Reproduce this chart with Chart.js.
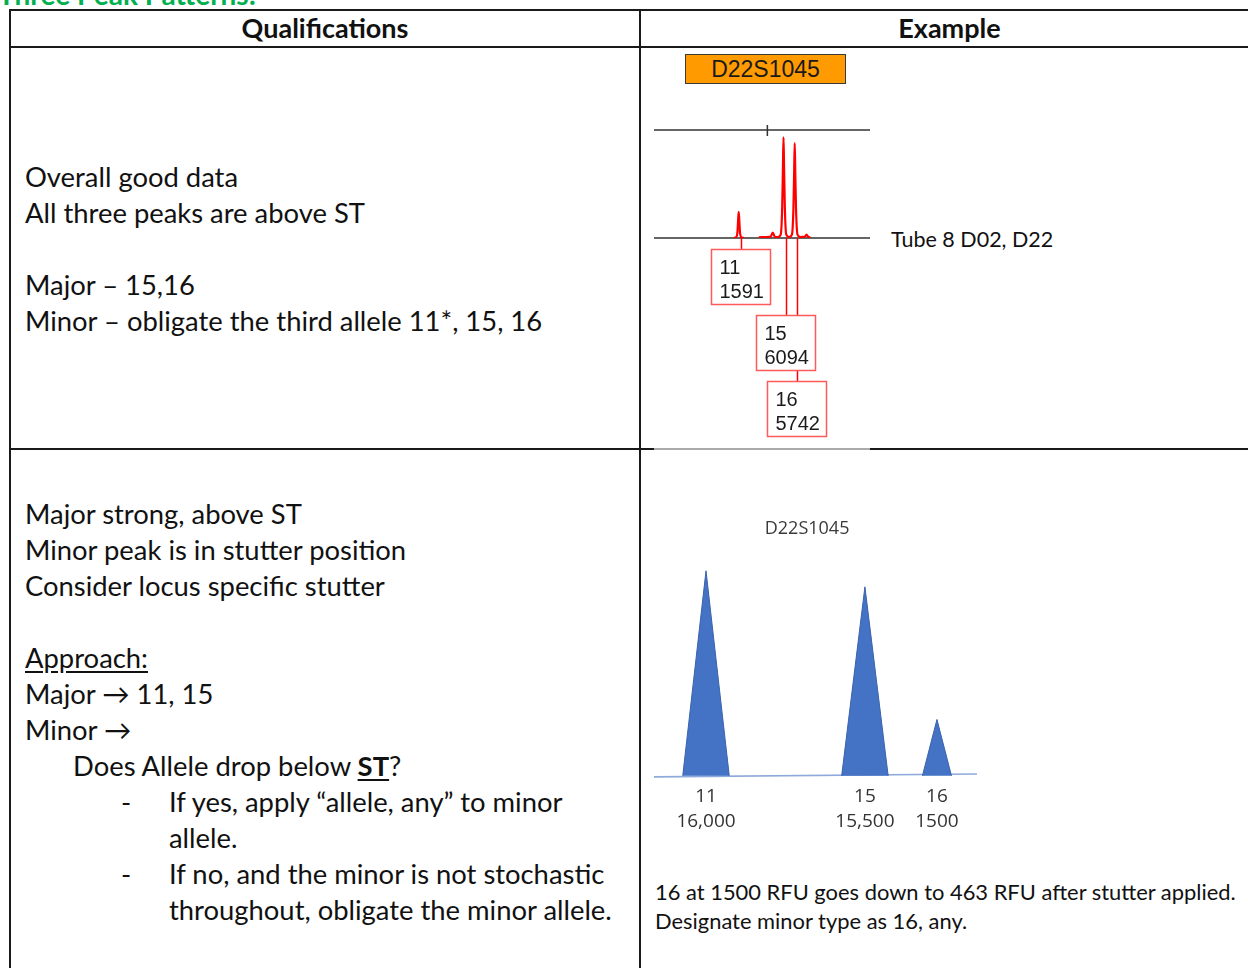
<!DOCTYPE html>
<html>
<head>
<meta charset="utf-8">
<script src="https://cdn.jsdelivr.net/npm/chart.js@4.4.0/dist/chart.umd.min.js"></script>
<style>
body { margin:0; width:1248px; height:968px; overflow:hidden; background:#fff; position:relative; font-family:Lato, "Noto Sans", sans-serif; color:#111; }
.t { position:absolute; white-space:nowrap; font-size:27.4px; line-height:36px; }
.ln { position:absolute; background:#1a1a1a; }
.u { text-decoration:underline; text-underline-offset:3px; }
canvas { position:absolute; }
</style>
</head>
<body>

<div class="t" style="left:-2px;top:-24px;font-size:28px;font-weight:bold;color:#00b050;">Three Peak Patterns:</div>

<!-- table rules -->
<div class="ln" style="left:10px;top:9px;width:1238px;height:2px;"></div>
<div class="ln" style="left:10px;top:46px;width:1238px;height:1.5px;"></div>
<div class="ln" style="left:9px;top:9px;width:2px;height:959px;"></div>
<div class="ln" style="left:639px;top:9px;width:1.5px;height:959px;"></div>
<div class="ln" style="left:10px;top:448px;width:644px;height:1.5px;"></div>
<div class="ln" style="left:654px;top:448px;width:216px;height:2px;background:#aaa;"></div>
<div class="ln" style="left:870px;top:448px;width:378px;height:1.5px;"></div>

<div class="t" style="left:10px;width:630px;text-align:center;top:10px;font-weight:bold;font-size:27px;">Qualifications</div>
<div class="t" style="left:640px;width:619px;text-align:center;top:10px;font-weight:bold;font-size:27px;">Example</div>

<div class="t" style="left:25px;top:159px;">Overall good data</div>
<div class="t" style="left:25px;top:195px;">All three peaks are above ST</div>
<div class="t" style="left:25px;top:267px;">Major – 15,16</div>
<div class="t" style="left:25px;top:303px;">Minor – obligate the third allele 11*, 15, 16</div>

<div class="t" style="left:25px;top:496px;">Major strong, above ST</div>
<div class="t" style="left:25px;top:532px;">Minor peak is in stutter position</div>
<div class="t" style="left:25px;top:568px;">Consider locus specific stutter</div>
<div class="t u" style="left:25px;top:640px;">Approach:</div>
<div class="t" style="left:25px;top:676px;">Major → 11, 15</div>
<div class="t" style="left:25px;top:712px;">Minor →</div>
<div class="t" style="left:73px;top:748px;">Does Allele drop below <b class="u">ST</b>?</div>
<div class="t" style="left:121px;top:784px;">-</div>
<div class="t" style="left:169px;top:784px;">If yes, apply “allele, any” to minor</div>
<div class="t" style="left:169px;top:820px;">allele.</div>
<div class="t" style="left:121px;top:856px;">-</div>
<div class="t" style="left:169px;top:856px;">If no, and the minor is not stochastic</div>
<div class="t" style="left:169px;top:892px;">throughout, obligate the minor allele.</div>

<div style="position:absolute;left:685px;top:54px;width:159px;height:28px;background:#ff9a00;border:1.5px solid #3a3a3a;text-align:center;font:23px/29px 'Liberation Sans',Arial,sans-serif;color:#1a1a1a;">D22S1045</div>
<div class="t" style="left:891px;top:221px;font-size:21.5px;">Tube 8 D02, D22</div>

<div class="t" style="left:655px;top:877px;font-size:21.9px;line-height:29px;">16 at 1500 RFU goes down to 463 RFU after stutter applied.</div>
<div class="t" style="left:655px;top:906px;font-size:21.9px;line-height:29px;">Designate minor type as 16, any.</div>

<canvas id="epg" width="250" height="340" style="left:640px;top:110px;"></canvas>
<canvas id="tri" width="350" height="340" style="left:640px;top:500px;"></canvas>

<script>
// ---- top example: electropherogram of D22S1045 ----
var epgAlleles = ['11', '15', '16'];
var epgPeakX = [11, 15, 16];
var epgHeights = [1591, 6094, 5742];
// red trace (allele position, RFU); null breaks the line
var traceX = [10.55, 10.75, 10.88, 10.95, 11.0, 11.05, 11.12, 11.25, 11.5, 12.0,
  12.8, 13.4, 13.85, 14.04, 14.22, 14.5, 14.75, 14.88, 14.95, 15.0, 15.05, 15.12, 15.25,
  15.5, 15.75, 15.88, 15.95, 16.0, 16.05, 16.12, 16.25, 16.5, 16.9, 17.05, 17.2, 17.4];
var traceY = [0, 40, 300, 1100, 1591, 1100, 300, 40, 0, null,
  40, 60, 80, 320, 80, 60, 200, 1800, 4300, 6094, 4300, 1800, 200,
  60, 200, 1700, 4000, 5742, 4000, 1700, 200, 60, 80, 200, 80, 0];

// ---- bottom example: schematic peaks ----
var triAlleles = ['11', '15', '16'];
var triRfu = ['16,000', '15,500', '1500'];
var triPos = [16.1, 65.3, 87.6];
var triHalfWidth = [7.2, 7.2, 4.5];
var triHeights = [16000, 14750, 4400];
var baselineX = [0, 100];
var baselineY = [-80, 150];

var epgDecor = {
  id: 'epgDecor',
  beforeDatasetsDraw: function (chart) {
    var ctx = chart.ctx, a = chart.chartArea, x = chart.scales.x;
    ctx.save();
    ctx.strokeStyle = '#333';
    ctx.lineWidth = 1.5;
    ctx.beginPath();
    ctx.moveTo(a.left, a.top); ctx.lineTo(a.right, a.top);
    ctx.moveTo(a.left, a.bottom); ctx.lineTo(a.right, a.bottom);
    var tx = x.getPixelForValue(13.56);
    ctx.moveTo(tx, a.top - 5); ctx.lineTo(tx, a.top + 6);
    ctx.stroke();
    ctx.restore();
  },
  afterDraw: function (chart) {
    var ctx = chart.ctx, a = chart.chartArea, x = chart.scales.x;
    var boxes = epgAlleles.map(function (al, i) {
      return { lx: Math.round(x.getPixelForValue(epgPeakX[i])) + 2.5, top: Math.round(a.bottom) + 11.5 + i * 66 };
    });
    ctx.save();
    ctx.strokeStyle = '#ff0000';
    ctx.lineWidth = 1.5;
    boxes.forEach(function (b) {
      ctx.beginPath(); ctx.moveTo(b.lx, a.bottom); ctx.lineTo(b.lx, b.top); ctx.stroke();
    });
    ctx.font = '20px "Liberation Sans", Arial, sans-serif';
    boxes.forEach(function (b, i) {
      ctx.fillStyle = '#fff';
      ctx.fillRect(b.lx - 30, b.top, 59, 55);
      ctx.strokeStyle = '#ff5a5a';
      ctx.lineWidth = 1.5;
      ctx.strokeRect(b.lx - 30, b.top, 59, 55);
      ctx.fillStyle = '#1a1a1a';
      ctx.fillText(epgAlleles[i], b.lx - 22, b.top + 24);
      ctx.fillText(String(epgHeights[i]), b.lx - 22, b.top + 48);
    });
    ctx.restore();
  }
};

new Chart(document.getElementById('epg'), {
  type: 'scatter',
  data: {
    datasets: [{
      data: traceX.map(function (v, i) { return { x: v, y: traceY[i] }; }),
      showLine: true,
      spanGaps: false,
      borderColor: '#ff0000',
      borderWidth: 2.2,
      pointRadius: 0,
      cubicInterpolationMode: 'monotone'
    }]
  },
  options: {
    responsive: false,
    animation: false,
    layout: { padding: { left: 14, right: 20, top: 20, bottom: 212 } },
    plugins: { legend: { display: false }, tooltip: { enabled: false } },
    scales: {
      x: { type: 'linear', min: 3.44, max: 22.72, display: false },
      y: { min: 0, max: 6540, display: false }
    }
  },
  plugins: [epgDecor]
});

var triDecor = {
  id: 'triDecor',
  afterDraw: function (chart) {
    var ctx = chart.ctx, a = chart.chartArea, x = chart.scales.x, y = chart.scales.y;
    var base = y.getPixelForValue(0);
    ctx.save();
    ctx.textAlign = 'center';
    ctx.fillStyle = '#333';
    ctx.font = '19px "Open Sans", sans-serif';
    triAlleles.forEach(function (al, i) {
      var px = x.getPixelForValue(triPos[i]);
      ctx.fillText(al, px, base + 26);
      ctx.fillText(triRfu[i], px, base + 51);
    });
    ctx.fillStyle = '#3a3a3a';
    ctx.font = '18px "Open Sans", sans-serif';
    ctx.fillText('D22S1045', a.left + a.width * 0.474, a.top - 24);
    ctx.restore();
  }
};

var triSets = triPos.map(function (p, i) {
  return {
    data: [{ x: p - triHalfWidth[i], y: 0 }, { x: p, y: triHeights[i] }, { x: p + triHalfWidth[i], y: 0 }],
    showLine: true,
    fill: 'origin',
    backgroundColor: '#4472c4',
    borderColor: '#3a62ab',
    borderWidth: 1,
    pointRadius: 0,
    tension: 0
  };
});
triSets.push({
  data: baselineX.map(function (v, i) { return { x: v, y: baselineY[i] }; }),
  showLine: true,
  borderColor: '#8eaadb',
  borderWidth: 1.6,
  pointRadius: 0
});

new Chart(document.getElementById('tri'), {
  type: 'scatter',
  data: { datasets: triSets },
  options: {
    responsive: false,
    animation: false,
    layout: { padding: { left: 14, right: 13, top: 58, bottom: 59 } },
    plugins: { legend: { display: false }, tooltip: { enabled: false } },
    scales: {
      x: { type: 'linear', min: 0, max: 100, display: false },
      y: { min: -400, max: 17000, display: false }
    }
  },
  plugins: [triDecor]
});
</script>
</body>
</html>
